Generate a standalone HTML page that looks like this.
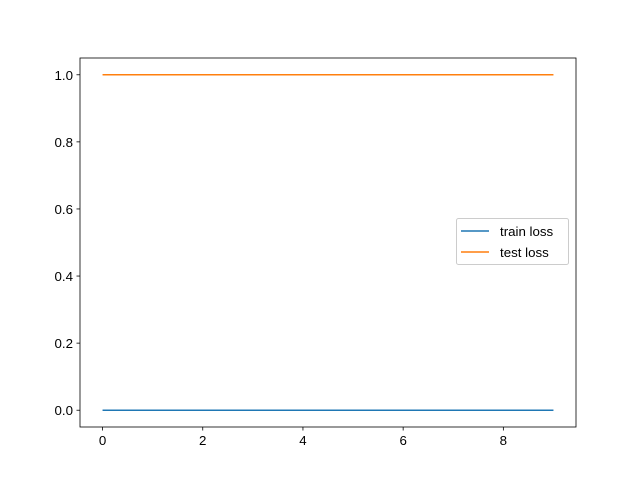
<!DOCTYPE html>
<html><head><meta charset="utf-8"><style>
body{margin:0;background:#fff}
svg text{font-family:"Liberation Sans","DejaVu Sans",sans-serif;font-size:13.3px;fill:#000}
</style></head><body>
<svg id="chart" width="640" height="480">
<rect width="640" height="480" fill="#fff"/>
<g id="plot"></g>
</svg>
<script>
const xValues=[0,1,2,3,4,5,6,7,8,9];
const trainLoss=[0,0,0,0,0,0,0,0,0,0];
const testLoss=[1,1,1,1,1,1,1,1,1,1];
const xTicks=[0,2,4,6,8];
const yTicks=[0.0,0.2,0.4,0.6,0.8,1.0];
const L=80,R=576,T=58,B=427;
const xmin=-0.45,xmax=9.45,ymin=-0.05,ymax=1.05;
const sx=v=>L+(v-xmin)/(xmax-xmin)*(R-L);
const sy=v=>B-(v-ymin)/(ymax-ymin)*(B-T);
const g=document.getElementById('plot');
const NS='http://www.w3.org/2000/svg';
function mk(t,a){const e=document.createElementNS(NS,t);for(const k in a)e.setAttribute(k,a[k]);g.appendChild(e);return e;}
xTicks.forEach(v=>{
 const l=mk('line',{x1:sx(v),x2:sx(v),y1:B,y2:B+3.5,stroke:'#000','stroke-width':0.8});
 
 
 const t=mk('text',{x:sx(v),y:B+18,'text-anchor':'middle'});t.textContent=v;
 
 
});
yTicks.forEach(v=>{
 const l=mk('line',{x1:L-3.5,x2:L,y1:sy(v),y2:sy(v),stroke:'#000','stroke-width':0.8});
 
 
 const t=mk('text',{x:L-7,y:sy(v)+5,'text-anchor':'end'});t.textContent=v.toFixed(1);
 
 
});
function series(vals,color,name){
 const p=mk('polyline',{points:xValues.map((x,i)=>sx(x)+','+sy(vals[i])).join(' '),fill:'none',stroke:color,'stroke-width':1.5});
 
 
}
series(trainLoss,'#1f77b4','train-loss-line');
series(testLoss,'#ff7f0e','test-loss-line');
const fr=mk('rect',{x:L,y:T,width:R-L,height:B-T,fill:'none',stroke:'#000','stroke-width':0.8});


const lg=mk('rect',{x:456.5,y:218.5,width:112,height:46,rx:2,fill:'#fff','fill-opacity':0.8,stroke:'#ccc','stroke-width':1});


[['train loss','#1f77b4',231],['test loss','#ff7f0e',252]].forEach(([n,c,y])=>{
 const l=mk('line',{x1:461,x2:489,y1:y,y2:y,stroke:c,'stroke-width':1.5});
 
 
 const t=mk('text',{x:500,y:y+5});t.textContent=n;
 
 
});
</script>
</body></html>
